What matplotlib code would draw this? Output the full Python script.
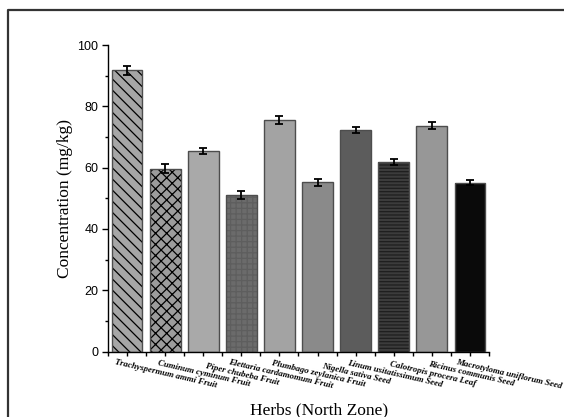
import matplotlib
matplotlib.use("Agg")
import matplotlib.pyplot as plt
from matplotlib.ticker import MultipleLocator, FixedLocator
from matplotlib.lines import Line2D
import matplotlib.transforms as mtransforms

# Herb samples (North Zone) and measured concentrations
herbs = [
    "Trachyspermum ammi Fruit",
    "Cuminum cyminum Fruit",
    "Piper chubeba Fruit",
    "Elettaria cardamomum Fruit",
    "Plumbago zeylanica Fruit",
    "Nigella sativa Seed",
    "Linum usitatissimum Seed",
    "Calotropis procera Leaf",
    "Ricinus communis Seed",
    "Macrotyloma uniflorum Seed",
]
concentration = [91.7, 59.7, 65.3, 51.1, 75.6, 55.2, 72.4, 61.8, 73.7, 55.1]
errors = [1.35, 1.45, 1.0, 1.2, 1.25, 1.2, 1.0, 1.0, 1.25, 0.8]

fill_colors = ["#a6a6a6", "#9c9c9c", "#a9a9a9", "#6b6b6b", "#a3a3a3",
               "#8a8a8a", "#5c5c5c", "#3c3c3c", "#979797", "#0a0a0a"]
hatches = ["\\\\\\", "xxx", None, "+++", None, None, None, "-----", None, None]
hatch_colors = ["#000000", "#000000", None, "#5e5e5e", None, None, None, "#1e1e1e", None, None]

W, H, DPI = 564, 417, 100
fig = plt.figure(figsize=(W / DPI, H / DPI), dpi=DPI)
fig.patch.set_facecolor("white")

ax = fig.add_axes([108 / W, 1 - 351.5 / H, 381 / W, 306.5 / H])

x = list(range(1, len(herbs) + 1))
width = 0.81

plt.rcParams["hatch.linewidth"] = 0.9

# Fill (with hatch drawn in its own colour) first, then outlines on top
for xi, v, fc, hp, hc in zip(x, concentration, fill_colors, hatches, hatch_colors):
    ax.bar(xi, v, width=width, color=fc, hatch=hp,
           edgecolor=hc if hc else fc, linewidth=0, zorder=2)
ax.bar(x, concentration, width=width, facecolor="none",
       edgecolor="#4d4d4d", linewidth=1.0, zorder=3)

ax.errorbar(x, concentration, yerr=errors, fmt="none", ecolor="black",
            elinewidth=1.3, capsize=2.6, capthick=1.3, zorder=4)

ax.set_xlim(0.5, 10.5)
ax.set_ylim(0, 100)

for side in ("top", "right"):
    ax.spines[side].set_visible(False)
for side in ("left", "bottom"):
    ax.spines[side].set_linewidth(1.0)
    ax.spines[side].set_color("black")

ax.yaxis.set_major_locator(MultipleLocator(20))
ax.yaxis.set_minor_locator(MultipleLocator(10))
ax.xaxis.set_major_locator(FixedLocator(x))
ax.xaxis.set_minor_locator(FixedLocator([i + 0.5 for i in x[:-1]] + [0.5, 10.5]))

ax.tick_params(axis="y", which="major", direction="out", length=4.3, width=1.0,
               pad=2.5, labelsize=9)
ax.tick_params(axis="y", which="minor", direction="out", length=2.4, width=1.0)
ax.tick_params(axis="x", which="major", direction="out", length=3.2, width=1.0, pad=1.2)
ax.tick_params(axis="x", which="minor", direction="out", length=3.2, width=1.0)

for lbl in ax.get_yticklabels():
    lbl.set_fontfamily("Liberation Sans")

# Slanted category labels, each centred a little right of and below its tick
ax.set_xticklabels(herbs, rotation=-13, ha="center", va="center",
                   rotation_mode="anchor", fontsize=6.4,
                   fontfamily="Liberation Serif", fontweight="bold",
                   fontstyle="italic")
shift = mtransforms.ScaledTranslation(39 / DPI, -16.5 / DPI, fig.dpi_scale_trans)
for lbl in ax.get_xticklabels():
    lbl.set_transform(lbl.get_transform() + shift)

fig.text(65 / W, 1 - 198 / H, "Concentration (mg/kg)", rotation=90,
         ha="center", va="center", fontsize=12.5, fontfamily="Liberation Serif")
fig.text(319.5 / W, 1 - 410 / H, "Herbs (North Zone)", ha="center",
         va="center", fontsize=12.5, fontfamily="Liberation Serif")

# Outer frame (top and left edges)
fig.add_artist(Line2D([8 / W, 8 / W, 1.0], [0.0, 1 - 10 / H, 1 - 10 / H],
                      transform=fig.transFigure, color="#333333", linewidth=1.6))

fig.savefig("out.png", dpi=DPI)
